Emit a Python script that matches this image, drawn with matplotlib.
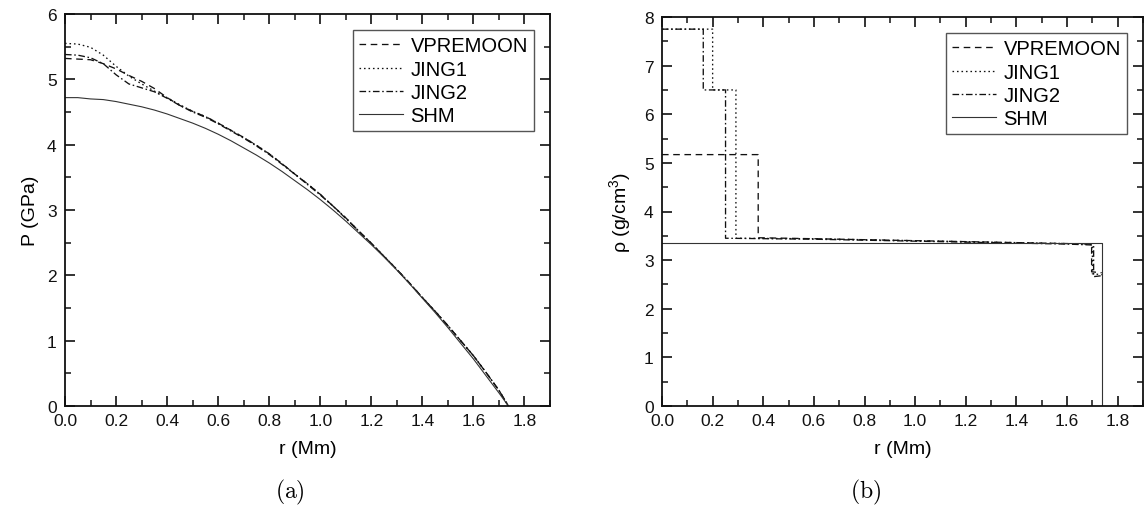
import matplotlib
matplotlib.use("Agg")
import matplotlib.pyplot as plt
from matplotlib.ticker import MultipleLocator, FormatStrFormatter

plt.rcParams['font.family'] = ['Liberation Sans', 'DejaVu Sans']
plt.rcParams['mathtext.fontset'] = 'custom'
plt.rcParams['mathtext.rm'] = 'Liberation Sans'

# ---------------- Panel (a): pressure ----------------
r_p = [0.00, 0.05, 0.10, 0.15, 0.20, 0.25, 0.30, 0.35, 0.40, 0.45, 0.50, 0.55,
       0.60, 0.65, 0.70, 0.75, 0.80, 0.85, 0.90, 0.95, 1.00, 1.05, 1.10, 1.15,
       1.20, 1.25, 1.30, 1.35, 1.40, 1.45, 1.50, 1.55, 1.60, 1.65, 1.70, 1.737]

p_vpremoon = [5.32, 5.31, 5.30, 5.24, 5.16, 5.06, 4.97, 4.86, 4.72, 4.60, 4.51, 4.43,
              4.33, 4.22, 4.11, 3.99, 3.86, 3.71, 3.55, 3.40, 3.24, 3.06, 2.88, 2.68,
              2.49, 2.29, 2.09, 1.88, 1.66, 1.45, 1.23, 1.00, 0.77, 0.51, 0.24, 0.00]
p_jing1 = [5.55, 5.54, 5.49, 5.37, 5.20, 5.05, 4.93, 4.82, 4.72, 4.61, 4.51, 4.43,
           4.33, 4.22, 4.11, 3.99, 3.86, 3.71, 3.55, 3.40, 3.24, 3.06, 2.88, 2.68,
           2.49, 2.29, 2.09, 1.88, 1.66, 1.45, 1.23, 1.00, 0.77, 0.51, 0.24, 0.00]
p_jing2 = [5.38, 5.37, 5.33, 5.24, 5.07, 4.93, 4.87, 4.81, 4.71, 4.60, 4.50, 4.42,
           4.32, 4.21, 4.10, 3.98, 3.85, 3.70, 3.55, 3.39, 3.23, 3.06, 2.87, 2.68,
           2.49, 2.29, 2.09, 1.88, 1.66, 1.45, 1.23, 1.00, 0.77, 0.51, 0.24, 0.00]
p_shm = [4.72, 4.72, 4.70, 4.69, 4.66, 4.62, 4.58, 4.53, 4.47, 4.40, 4.33, 4.25,
         4.16, 4.06, 3.95, 3.84, 3.72, 3.59, 3.45, 3.31, 3.16, 3.00, 2.83, 2.65,
         2.47, 2.28, 2.08, 1.87, 1.65, 1.43, 1.20, 0.96, 0.72, 0.46, 0.20, 0.00]

# ---------------- Panel (b): density ----------------
r_vpremoon = [0.00, 0.38, 0.38, 0.60, 0.80, 1.00, 1.20, 1.40, 1.60, 1.697, 1.697, 1.737]
rho_vpremoon = [5.17, 5.17, 3.46, 3.44, 3.42, 3.40, 3.38, 3.36, 3.34, 3.33, 2.76, 2.74]
r_jing1 = [0.00, 0.20, 0.20, 0.292, 0.292, 0.60, 0.80, 1.00, 1.20, 1.40, 1.60, 1.700, 1.700, 1.737]
rho_jing1 = [7.75, 7.75, 6.50, 6.50, 3.45, 3.44, 3.42, 3.40, 3.38, 3.36, 3.34, 3.32, 2.72, 2.70]
r_jing2 = [0.00, 0.163, 0.163, 0.251, 0.251, 0.60, 0.80, 1.00, 1.20, 1.40, 1.60, 1.705, 1.705, 1.737]
rho_jing2 = [7.75, 7.75, 6.50, 6.50, 3.45, 3.43, 3.41, 3.39, 3.37, 3.35, 3.33, 3.31, 2.66, 2.68]
r_shm = [0.00, 1.737, 1.737]
rho_shm = [3.35, 3.35, 0.00]

labels = ['VPREMOON', 'JING1', 'JING2', 'SHM']
styles = [(0, (5, 3.5)), (0, (1.2, 2.2)), (0, (5, 2, 1.2, 2)), '-']
colors = ['#111111', '#111111', '#111111', '#333333']
widths = [0.95, 0.95, 0.95, 0.8]

W, H = 1144, 506
fig = plt.figure(figsize=(W / 100, H / 100), dpi=100)

axA = fig.add_axes([65 / W, 1 - 407 / H, (550 - 65) / W, (407 - 15) / H])
axB = fig.add_axes([662 / W, 1 - 407 / H, (1143 - 662) / W, (407 - 18) / H])

p_series = [p_vpremoon, p_jing1, p_jing2, p_shm]
for ys, lab, ls, c, lw in zip(p_series, labels, styles, colors, widths):
    axA.plot(r_p, ys, linestyle=ls, color=c, lw=lw, label=lab)

rho_series = [(r_vpremoon, rho_vpremoon), (r_jing1, rho_jing1),
              (r_jing2, rho_jing2), (r_shm, rho_shm)]
for (xs, ys), lab, ls, c, lw in zip(rho_series, labels, styles, colors, widths):
    axB.plot(xs, ys, linestyle=ls, color=c, lw=lw, label=lab)

for ax in (axA, axB):
    ax.set_xlim(0, 1.9)
    ax.xaxis.set_major_locator(MultipleLocator(0.2))
    ax.xaxis.set_minor_locator(MultipleLocator(0.1))
    ax.yaxis.set_major_locator(MultipleLocator(1))
    ax.yaxis.set_minor_locator(MultipleLocator(0.5))
    ax.tick_params(which='both', direction='in', top=True, right=True,
                   labelsize=12.5, colors='#111111')
    ax.tick_params(axis='x', which='both', pad=5)
    ax.tick_params(axis='y', which='both', pad=6)
    ax.tick_params(which='major', length=7, width=1.2)
    ax.tick_params(which='minor', length=4, width=1.1)
    ax.xaxis.set_major_formatter(FormatStrFormatter('%.1f'))
    for s in ax.spines.values():
        s.set_linewidth(1.3)
        s.set_color('#111111')
    ax.set_xlabel('r (Mm)', fontsize=14, labelpad=9)
    leg = ax.legend(loc='upper right', bbox_to_anchor=(1.0, 1.0), borderaxespad=0.8,
                    fontsize=14.5, frameon=True, fancybox=False, framealpha=1,
                    edgecolor='#555555', handlelength=2.2, handletextpad=0.35,
                    labelspacing=0.22, borderpad=0.3)
    leg.get_frame().set_linewidth(1.0)

axA.set_ylim(0, 6)
axB.set_ylim(0, 8)
axA.set_ylabel('P (GPa)', fontsize=14, labelpad=6)
axB.set_ylabel(r'ρ (g/cm$^3$)', fontsize=14, labelpad=7)

fig.text(290 / W, 1 - 492 / H, r'$\mathrm{(a)}$', fontsize=17, ha='center', va='center',
         math_fontfamily='cm')
fig.text(866 / W, 1 - 492 / H, r'$\mathrm{(b)}$', fontsize=17, ha='center', va='center',
         math_fontfamily='cm')

fig.savefig('out.png', dpi=100)
